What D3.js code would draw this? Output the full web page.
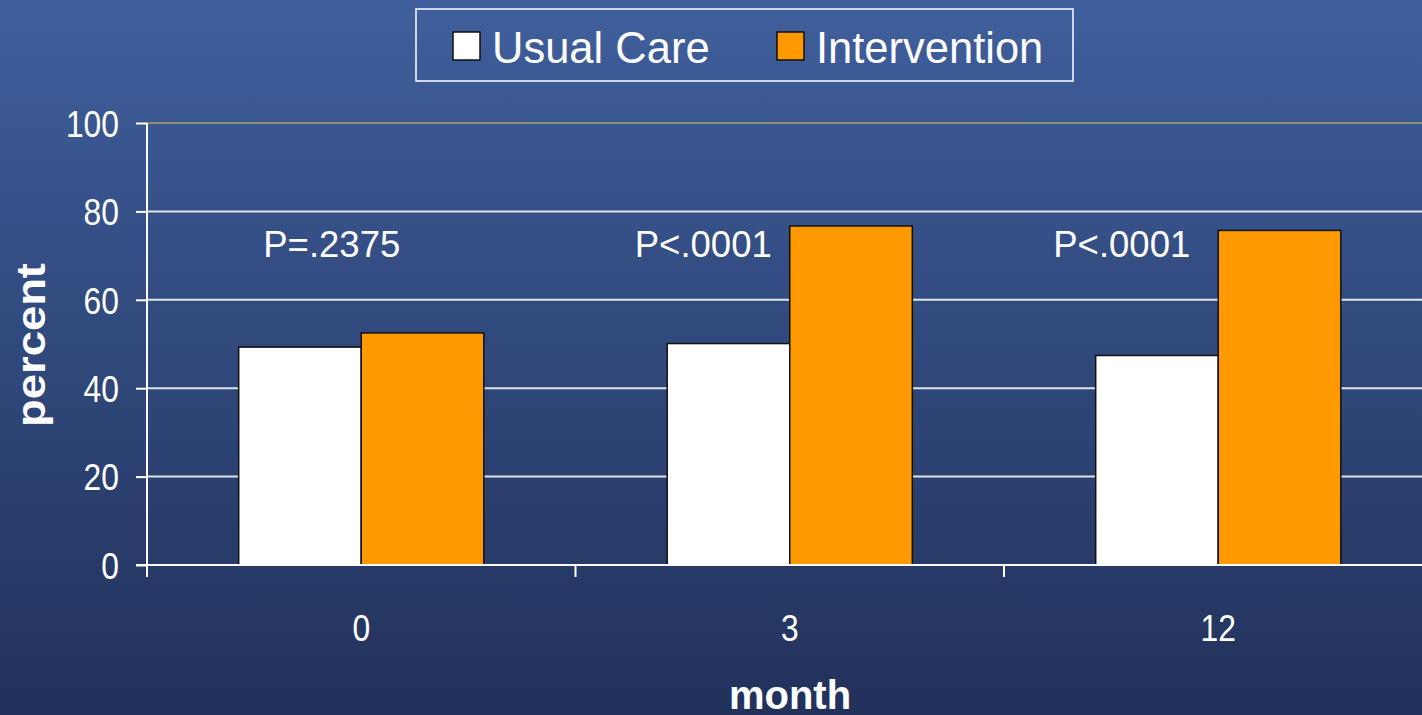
<!DOCTYPE html>
<html>
<head>
<meta charset="utf-8">
<script src="https://cdn.jsdelivr.net/npm/d3@7/dist/d3.min.js"></script>
<style>
  html, body { margin: 0; padding: 0; background: #22325a; }
  svg { display: block; }
  text { font-family: "Liberation Sans", Arial, sans-serif; fill: #ffffff; }
</style>
</head>
<body>
<div id="chart"></div>
<script>
// ---- data ----
const months = ["0", "3", "12"];
const seriesNames = ["Usual Care", "Intervention"];
const usualCare = [49.3, 50.1, 47.4];
const intervention = [52.5, 76.7, 75.7];
const pValues = ["P=.2375", "P<.0001", "P<.0001"];
const yTicks = [0, 20, 40, 60, 80, 100];
const seriesColors = ["#ffffff", "#ff9900"];

// ---- layout ----
const W = 1422, H = 715;
const plotLeft = 147, plotTop = 123, plotBottom = 565;
const step = 428.5;
const pLabelOffsets = [-98, -155, -165]; // start of P label relative to band centre
const pLabelValue = 69.6;
const narrow = 0.86;

const svg = d3.select("#chart").append("svg").attr("width", W).attr("height", H);
const defs = svg.append("defs");
const grad = defs.append("linearGradient").attr("id", "bg").attr("x1", 0).attr("y1", 0).attr("x2", 0).attr("y2", 1);
grad.append("stop").attr("offset", "0%").attr("stop-color", "#3f5f9c");
grad.append("stop").attr("offset", "100%").attr("stop-color", "#21315a");
svg.append("rect").attr("width", W).attr("height", H).attr("fill", "url(#bg)");

const y = d3.scaleLinear().domain([0, 100]).range([plotBottom, plotTop]);
const x0 = d3.scaleBand().domain(months)
  .range([plotLeft, plotLeft + step * months.length])
  .paddingInner(0.428).paddingOuter(0.214);
const x1 = d3.scaleBand().domain(seriesNames).range([0, x0.bandwidth()]);

// gridlines
svg.append("g").selectAll("line").data(yTicks.filter(d => d > 0)).join("line")
  .attr("x1", plotLeft).attr("x2", W)
  .attr("y1", d => y(d)).attr("y2", d => y(d))
  .attr("stroke", d => d === 100 ? "#8f8c78" : "#dfe4ec")
  .attr("stroke-width", 2);

// bars
const data = months.map((m, i) => ({ month: m, values: [usualCare[i], intervention[i]] }));
const groups = svg.append("g").selectAll("g").data(data).join("g")
  .attr("transform", d => `translate(${x0(d.month)},0)`);
groups.selectAll("rect").data(d => d.values.map((v, j) => ({ key: seriesNames[j], v, j })))
  .join("rect")
  .attr("x", d => x1(d.key))
  .attr("width", x1.bandwidth())
  .attr("y", d => y(d.v))
  .attr("height", d => y(0) - y(d.v))
  .attr("fill", d => seriesColors[d.j])
  .attr("stroke", "#111111").attr("stroke-width", 1.5);

// y axis
const yAxis = d3.axisLeft(y).tickValues(yTicks).tickSize(11).tickPadding(16);
const gy = svg.append("g").attr("transform", `translate(${plotLeft},0)`).call(yAxis);
gy.select(".domain").remove();
gy.selectAll(".tick line").attr("stroke", "#ffffff").attr("stroke-width", 2);
gy.selectAll(".tick text").attr("fill", "#ffffff")
  .style("font-size", "37px").attr("dy", "0.36em")
  .attr("x", -28 / narrow)
  .attr("transform", `scale(${narrow},1)`);
svg.append("line").attr("x1", plotLeft).attr("x2", plotLeft)
  .attr("y1", plotTop).attr("y2", plotBottom + 12)
  .attr("stroke", "#ffffff").attr("stroke-width", 2);

// x axis
svg.append("line").attr("x1", plotLeft - 11).attr("x2", W)
  .attr("y1", plotBottom).attr("y2", plotBottom)
  .attr("stroke", "#ffffff").attr("stroke-width", 2);
const boundaries = months.map(m => x0(m) - x0.step() * x0.paddingOuter());
svg.append("g").selectAll("line").data(boundaries).join("line")
  .attr("x1", d => d).attr("x2", d => d)
  .attr("y1", plotBottom).attr("y2", plotBottom + 12)
  .attr("stroke", "#ffffff").attr("stroke-width", 2);
svg.append("g").selectAll("text").data(months).join("text")
  .attr("transform", d => `translate(${x0(d) + x0.bandwidth() / 2},641) scale(${narrow},1)`)
  .attr("text-anchor", "middle")
  .style("font-size", "37px")
  .text(d => d);

// P labels
svg.append("g").selectAll("text").data(pValues).join("text")
  .attr("x", (d, i) => x0(months[i]) + x0.bandwidth() / 2 + pLabelOffsets[i])
  .attr("y", y(pLabelValue))
  .style("font-size", "36.5px")
  .text(d => d);

// axis titles
svg.append("text").attr("x", 790).attr("y", 709).attr("text-anchor", "middle")
  .style("font-size", "40px").style("font-weight", "bold").text("month");
svg.append("text").attr("transform", "translate(45,345) rotate(-90)")
  .attr("text-anchor", "middle")
  .attr("textLength", 164).attr("lengthAdjust", "spacingAndGlyphs")
  .style("font-size", "40px").style("font-weight", "bold").text("percent");

// legend
const lg = svg.append("g");
lg.append("rect").attr("x", 416).attr("y", 9).attr("width", 657).attr("height", 72)
  .attr("fill", "none").attr("stroke", "#ffffff").attr("stroke-width", 1.5);
const legendX = [453, 777];
seriesNames.forEach((s, i) => {
  lg.append("rect").attr("x", legendX[i]).attr("y", 32).attr("width", 27).attr("height", 28)
    .attr("fill", seriesColors[i]).attr("stroke", "#111111").attr("stroke-width", 1.5);
  lg.append("text").attr("x", legendX[i] + 39).attr("y", 63)
    .style("font-size", "43.5px").text(s);
});
</script>
</body>
</html>
